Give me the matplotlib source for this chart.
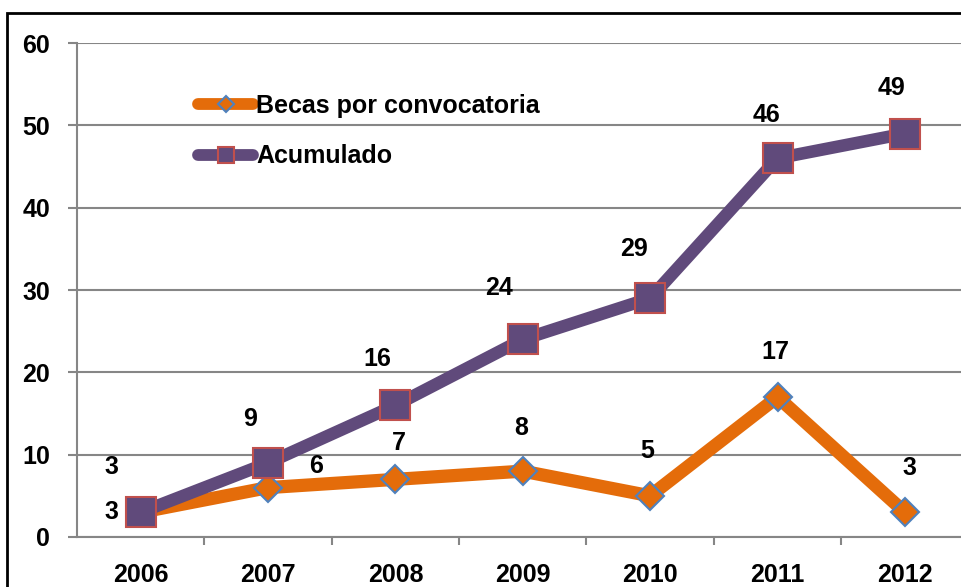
import matplotlib
matplotlib.use("Agg")
import matplotlib.pyplot as plt
from matplotlib.patches import Rectangle

years = ["2006", "2007", "2008", "2009", "2010", "2011", "2012"]
becas = [3, 6, 7, 8, 5, 17, 3]
acumulado = [3, 9, 16, 24, 29, 46, 49]
yticks = [0, 10, 20, 30, 40, 50, 60]

# label offsets (pixels) as placed in the original
becas_off = [(-29, 0), (48, 22), (3, 36), (-2, 43), (-3, 45), (-2, 45), (5, 44)]
acum_off = [(-29, 45), (-18, 44), (-18, 46), (-24, 51), (-16, 49), (-11, 43), (-13, 46)]

plt.rcParams["font.family"] = ["Liberation Sans", "DejaVu Sans"]
plt.rcParams["font.weight"] = "bold"
FS = 18

fig = plt.figure(figsize=(9.61, 5.87), dpi=100)
ax = fig.add_axes([77 / 961, 1 - 537 / 587, (968.6 - 77) / 961, (537 - 43) / 587])

grid_c = "#868686"
x = list(range(len(years)))

ax.plot(x, becas, color="#E46C0A", lw=9.5, marker="D", ms=14.5,
        mfc="#E46C0A", mec="#4F81BD", mew=1.5, label="Becas por convocatoria",
        zorder=3)
ax.plot(x, acumulado, color="#604A7B", lw=9, marker="s", ms=21.5,
        mfc="#604A7B", mec="#C0504D", mew=1.5, label="Acumulado", zorder=4)

for i, v in enumerate(becas):
    ax.annotate(str(v), (i, v), xytext=becas_off[i], textcoords="offset pixels",
                ha="center", va="center", fontsize=FS, fontweight="bold")
for i, v in enumerate(acumulado):
    ax.annotate(str(v), (i, v), xytext=acum_off[i], textcoords="offset pixels",
                ha="center", va="center", fontsize=FS, fontweight="bold")

ax.set_xlim(-0.5, len(years) - 0.5)
ax.set_ylim(0, 60)
ax.set_yticks(yticks)
ax.set_yticklabels([str(t) for t in yticks])
ax.set_xticks(x)
ax.set_xticklabels(years)
ax.set_xticks([i + 0.5 for i in range(len(years) - 1)], minor=True)

ax.grid(axis="y", color=grid_c, lw=1.5)
ax.set_axisbelow(True)
ax.tick_params(axis="y", length=6.5, width=1.5, color=grid_c, pad=13,
               labelsize=FS)
ax.tick_params(axis="x", which="major", length=0, pad=19, labelsize=FS)
ax.tick_params(axis="x", which="minor", length=6, width=1.5, color=grid_c)
for lab in ax.get_xticklabels() + ax.get_yticklabels():
    lab.set_fontweight("bold")

ax.spines["top"].set_visible(False)
ax.spines["right"].set_visible(False)
for s in ("left", "bottom"):
    ax.spines[s].set_color(grid_c)
    ax.spines[s].set_linewidth(1.5)

leg = ax.legend(loc="upper left", bbox_to_anchor=(0.125, 0.917), frameon=False,
                fontsize=FS, handlelength=2.2, handletextpad=0.1,
                labelspacing=1.05, borderaxespad=0)
for t in leg.get_texts():
    t.set_fontweight("bold")
hs = leg.legend_handles
hs[0].set_markersize(8.5)
hs[0].set_linewidth(8.5)
hs[1].set_markersize(12)
hs[1].set_linewidth(8.5)
for h in hs:
    h.set_solid_capstyle("round")
leg.set_zorder(5)

fig.patches.append(Rectangle((7 / 961, -0.05), 1.2, 1 - 13 / 587 + 0.05,
                             transform=fig.transFigure, fill=False,
                             edgecolor="black", lw=2, zorder=10))

fig.savefig("out.png", dpi=100)
